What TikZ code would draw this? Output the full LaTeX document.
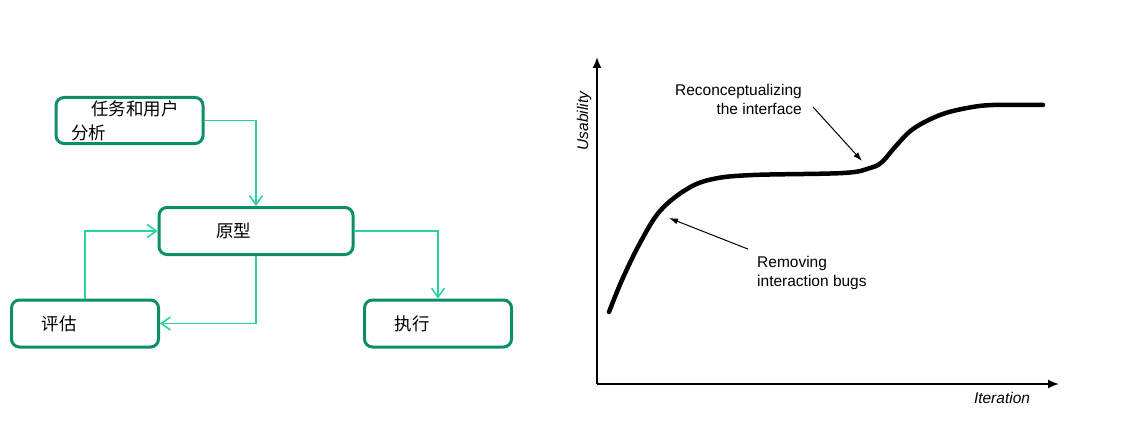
\documentclass[tikz,border=0pt]{standalone}
\usepackage{fontspec}
\setmainfont{Liberation Sans}
\newfontfamily\cjk{Noto Sans CJK SC}
\usepackage{xcolor}
\usetikzlibrary{arrows.meta, positioning}

\definecolor{boxgreen}{HTML}{0B8F6B}
\definecolor{linkgreen}{HTML}{2AD39C}

\tikzset{
  stage/.style={draw=boxgreen, line width=3pt, rounded corners=8pt, align=left,
    minimum height=47pt, inner ysep=0pt, font=\cjk\fontsize{17.5}{24}\selectfont},
  link/.style={color=linkgreen, line width=1.8pt,
    -{Straight Barb[length=9pt,width=13pt,line width=1.6pt]}},
  axis/.style={line width=1.8pt, -{Latex[length=11pt,width=9pt]}},
  note/.style={line width=1pt, -{Latex[length=9pt,width=6pt]}},
  caption/.style={inner sep=0pt, font=\fontsize{15.5}{19}\selectfont}
}

\begin{document}
\begin{tikzpicture}[x=1pt, y=-1pt, on grid]
  \useasboundingbox (0,0) rectangle (1131,441);

  % left: design cycle
  \node[stage, text width=80pt, inner xsep=57pt]  (proto) at (256,231) {原型};
  \node[stage, text width=117pt, inner xsep=15pt, minimum height=46pt]
        (task)  [above left=110.5pt and 126.5pt of proto] {\hspace*{20pt}任务和用户\\分析};
  \node[stage, text width=87pt, inner xsep=30pt]  (eval)  [below left=92.5pt and 171pt of proto] {评估};
  \node[stage, text width=87pt, inner xsep=30pt]  (exec)  [below right=92.5pt and 182pt of proto] {执行};

  \draw[link] (task.east)  -| (proto.north);
  \draw[link] (proto.east) -| (exec.north);
  \draw[link] (proto.south) |- (eval.east);
  \draw[link] (eval.north) |- (proto.west);

  % right: usability over iterations
  \coordinate (origin) at (597,384);
  \coordinate (ytop)   at (597,57);
  \coordinate (xend)   at (1059,384);
  \draw[axis] (origin) -- (ytop);
  \draw[axis] (origin) -- (xend);
  \node[caption, rotate=90, font=\fontsize{15.5}{19}\selectfont\itshape] (usab) at (584,121) {Usability};
  \node[caption, font=\fontsize{15.5}{19}\selectfont\itshape]            (iter) at (1002,398) {Iteration};

  \draw[line width=4.5pt, line cap=round] plot[smooth, tension=0.6] coordinates {
    (609,312) (622,280) (640,243) (660,211) (687,189) (713,179) (753,175)
    (843,173) (870,168) (882,162) (895,147) (913,129) (940,115) (967,108)
    (993,105) (1043,105)};

  \coordinate (bend) at (862,161);
  \coordinate (bugs) at (669,218);
  \node[caption, align=right, anchor=east] (recon)  at (802,99)  {Reconceptualizing\\the interface};
  \node[caption, align=left,  anchor=west] (remove) at (757,273) {Removing\\interaction bugs};
  \draw[note] ([xshift=11pt, yshift=-8pt]recon.east) -- (bend);
  \draw[note] ([shift={(-9pt,7pt)}]remove.north west) -- (bugs);
\end{tikzpicture}
\end{document}
